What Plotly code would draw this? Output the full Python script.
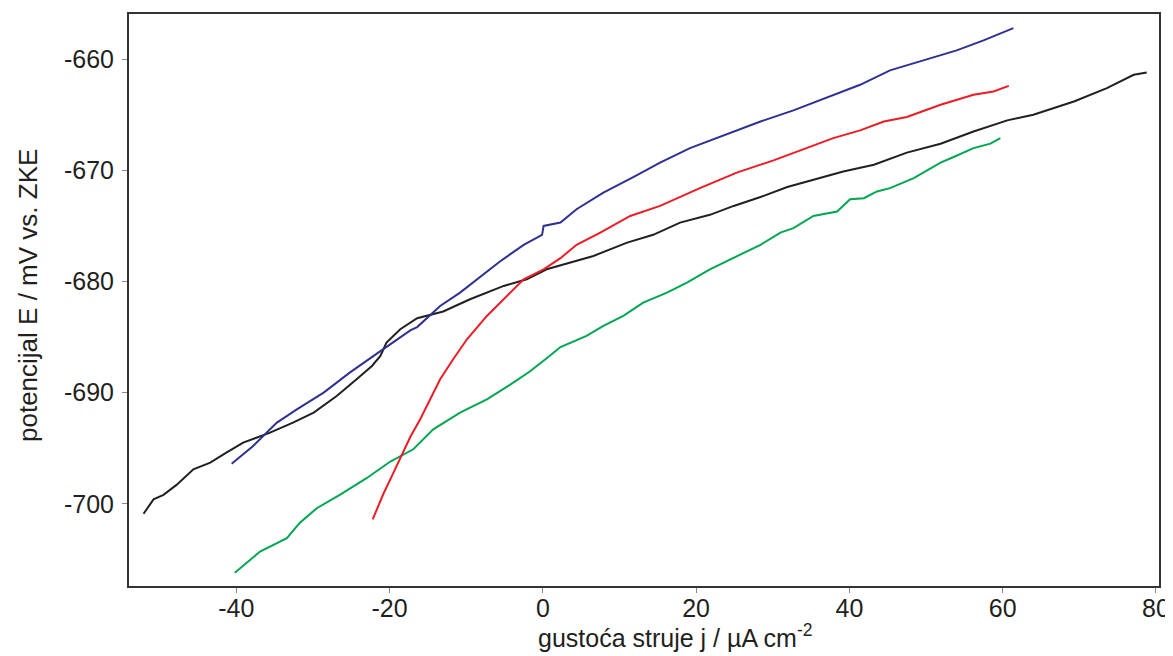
import plotly.graph_objects as go

# Blue series
blue_x = [-40.6, -37.8, -34.7, -32.1, -28.6, -25.2, -22.5, -20.4, -17.3, -16.4, -13.4, -10.8, -8.6, -5.6, -2.5, -0.1,
          0.1, 2.3, 4.4, 7.9, 11.8, 15.3, 19.2, 24.9, 28.4, 32.7, 37.1, 41.4, 45.3, 49.7, 54.0, 57.5, 61.4]
blue_y = [-696.4, -694.8, -692.7, -691.5, -690.0, -688.2, -686.9, -685.9, -684.4, -684.1, -682.2, -681.0, -679.8, -678.2, -676.7, -675.8,
          -675.0, -674.7, -673.5, -672.0, -670.6, -669.3, -668.0, -666.5, -665.6, -664.6, -663.4, -662.3, -661.0, -660.1, -659.2, -658.3, -657.2]

# Red series
red_x = [-22.2, -20.8, -19.9, -18.6, -17.3, -16.0, -15.1, -13.4, -11.7, -9.9, -7.3, -4.7, -2.5, 0.1, 2.3, 4.4, 7.5,
         11.4, 15.3, 20.5, 25.3, 30.1, 33.6, 37.9, 41.4, 44.5, 47.5, 51.9, 56.2, 58.8, 60.8]
red_y = [-701.4, -699.1, -697.8, -695.9, -694.0, -692.4, -691.2, -688.8, -687.0, -685.2, -683.1, -681.3, -679.8, -678.9, -677.9, -676.7, -675.6,
         -674.1, -673.2, -671.6, -670.2, -669.1, -668.2, -667.1, -666.4, -665.6, -665.2, -664.1, -663.2, -662.9, -662.4]

# Green series
green_x = [-40.2, -36.9, -33.4, -31.7, -29.5, -26.5, -23.0, -19.9, -16.9, -14.3, -10.8, -7.3, -4.3, -1.7, 0.5, 2.3, 5.7,
           7.9, 10.5, 13.1, 16.2, 18.8, 21.8, 24.9, 28.4, 31.0, 32.7, 35.3, 38.4, 40.1, 41.9, 43.6, 45.3, 48.4, 51.9, 53.6, 56.2, 58.4, 59.7]
green_y = [-706.2, -704.3, -703.1, -701.7, -700.4, -699.2, -697.7, -696.2, -695.1, -693.3, -691.8, -690.6, -689.3, -688.1, -686.9, -685.9, -684.9,
           -684.0, -683.1, -681.9, -681.0, -680.1, -678.9, -677.9, -676.7, -675.6, -675.2, -674.1, -673.7, -672.6, -672.5, -671.9, -671.6, -670.7, -669.3, -668.8, -668.0, -667.6, -667.1]

# Black series
black_x = [-52.1, -50.8, -49.5, -47.8, -45.6, -43.4, -41.3, -39.1, -35.6, -32.6, -29.9, -26.9, -24.3, -22.3, -21.2, -20.4, -18.6,
           -16.4, -13.0, -9.5, -5.1, -2.1, 0.5, 4.0, 6.6, 11.0, 14.4, 17.9, 21.8, 24.9, 28.4, 31.9, 36.2, 39.2,
           43.2, 47.5, 51.9, 56.2, 60.6, 64.0, 69.3, 73.6, 77.1, 78.8]
black_y = [-700.9, -699.6, -699.2, -698.3, -696.9, -696.3, -695.4, -694.5, -693.6, -692.7, -691.8, -690.3, -688.8, -687.6, -686.7, -685.5, -684.3,
           -683.3, -682.7, -681.6, -680.4, -679.8, -678.9, -678.2, -677.7, -676.5, -675.8, -674.7, -674.0, -673.2, -672.4, -671.5, -670.7, -670.1,
           -669.5, -668.4, -667.6, -666.5, -665.5, -665.0, -663.8, -662.6, -661.4, -661.2]

x_ticks = [-40, -20, 0, 20, 40, 60, 80]
x_tick_labels = ["-40", "-20", "0", "20", "40", "60", "80"]
y_ticks = [-660, -670, -680, -690, -700]
y_tick_labels = ["-660", "-670", "-680", "-690", "-700"]

x_title = "gustoća struje j / µA cm<sup>-2</sup>"
y_title = "potencijal E / mV vs. ZKE"

fig = go.Figure()
for xs, ys, col in [(black_x, black_y, "#231f20"), (green_x, green_y, "#00a651"),
                    (red_x, red_y, "#ed1c24"), (blue_x, blue_y, "#2e3192")]:
    fig.add_trace(go.Scatter(x=xs, y=ys, mode="lines", line=dict(color=col, width=2), showlegend=False))

font = "Liberation Sans, Arial, sans-serif"
txt = "#231f20"
# page body has an 8px margin, so the figure is sized / offset to compensate
fig.update_layout(
    width=1165, height=648,
    margin=dict(l=121, r=14, t=6, b=70, autoexpand=False),
    plot_bgcolor="white", paper_bgcolor="white",
    font=dict(family=font, size=25, color=txt),
)
fig.update_xaxes(range=[-54.0, 80.4], tickvals=x_ticks, ticktext=x_tick_labels, ticks="outside", ticklen=5,
                 tickcolor="#888", automargin=False, ticklabelstandoff=-6, ticklabeloverflow="allow",
                 showgrid=False, zeroline=False, showline=True, linecolor="#333", linewidth=2, mirror=True,
                 tickfont=dict(size=25, color=txt))
fig.update_yaxes(range=[-707.4, -655.93], tickvals=y_ticks, ticktext=y_tick_labels, ticks="outside", ticklen=5,
                 tickcolor="#888", automargin=False, ticklabelstandoff=3, ticklabeloverflow="allow",
                 showgrid=False, zeroline=False, showline=True, linecolor="#333", linewidth=2, mirror=True,
                 tickfont=dict(size=25, color=txt))
fig.add_annotation(text=x_title, xref="paper", yref="paper",
                   x=0.531, y=-(637 - 586.5) / 572.5, xanchor="center", yanchor="middle", showarrow=False,
                   font=dict(size=25, color=txt, family=font))
fig.add_annotation(text=y_title, xref="paper", yref="paper", textangle=-90,
                   x=(28 - 129) / 1030, y=0.507, xanchor="center", yanchor="middle", showarrow=False,
                   font=dict(size=26, color=txt, family=font))
fig.write_html("out.html")
